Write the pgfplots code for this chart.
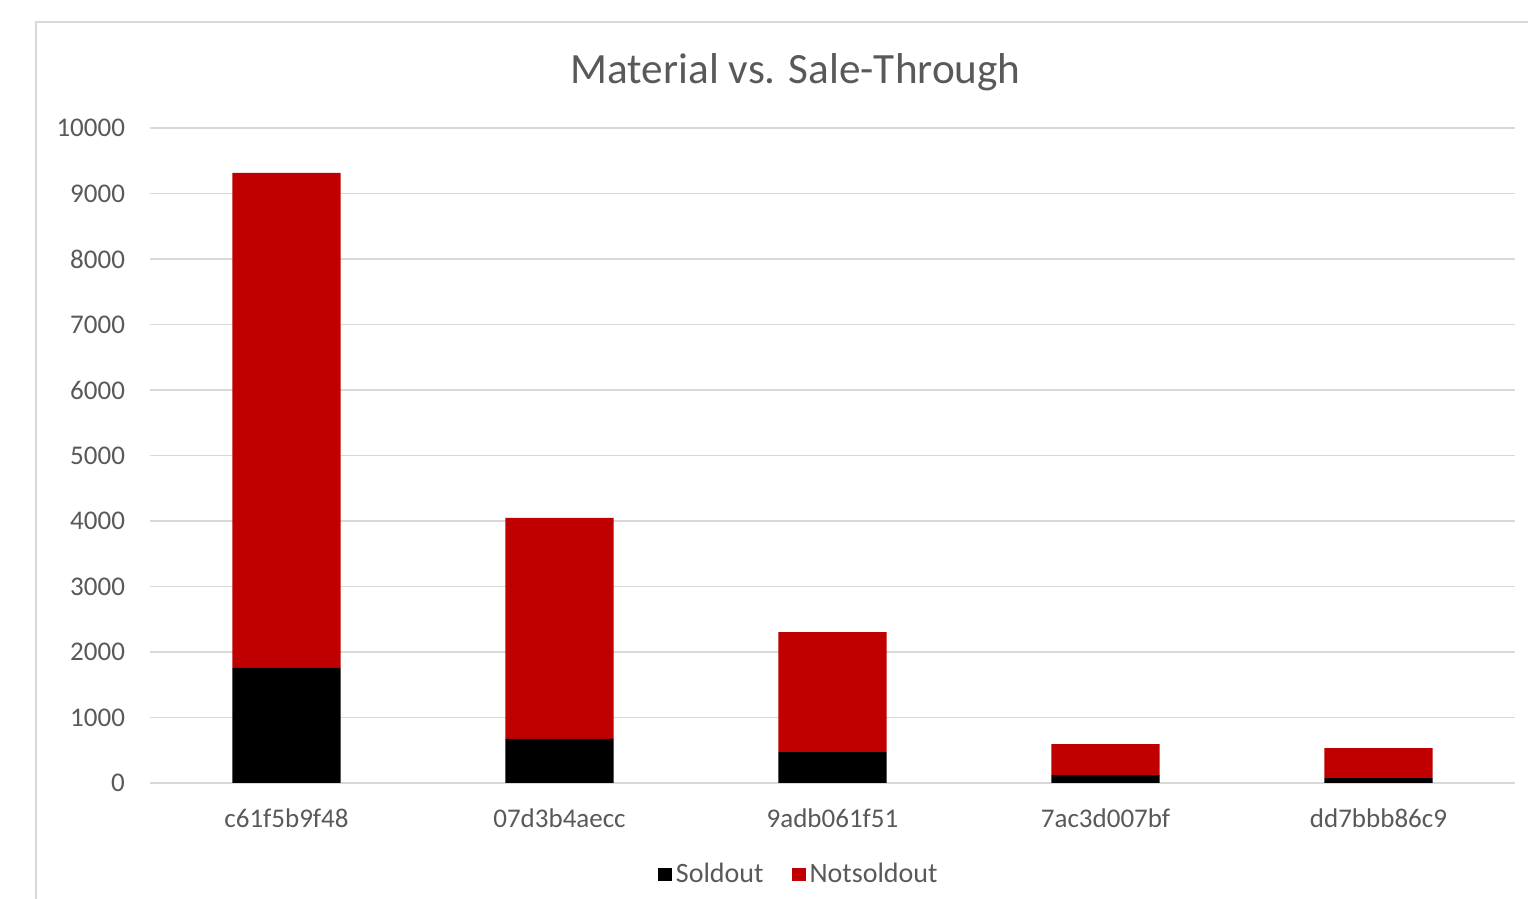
\documentclass[border=0pt]{standalone}
\usepackage{pgfplots}
\pgfplotsset{compat=1.18}
\usepackage{fontspec}
\setmainfont{Carlito}
\definecolor{exred}{HTML}{C00000}
\definecolor{gridc}{HTML}{D9D9D9}
\definecolor{txt}{HTML}{595959}
\begin{document}
\begin{tikzpicture}
\path[use as bounding box] (0,0) rectangle (764pt,449.5pt);
\draw[gridc, line width=0.8pt] (18pt,0) -- (18pt,438.5pt) -- (764pt,438.5pt);
\begin{axis}[
  at={(75pt,58pt)}, anchor=south west,
  scale only axis, width=682.5pt, height=327.5pt,
  ybar stacked, bar width=0.396,
  xmin=-0.5, xmax=4.5, ymin=0, ymax=10000,
  ytick distance=1000,
  xtick=data,
  xticklabels={c61f5b9f48,07d3b4aecc,9adb061f51,7ac3d007bf,dd7bbb86c9},
  scaled y ticks=false,
  /pgf/number format/1000 sep={},
  /pgf/number format/assume math mode=true,
  ymajorgrids, grid style={gridc, line width=0.8pt},
  axis x line*=bottom, axis y line*=left,
  x axis line style={gridc, line width=0.8pt, -},
  y axis line style={draw=none},
  tick style={draw=none},
  ticklabel style={font=\fontsize{13.5}{15}\selectfont, text=txt},
  yticklabel style={xshift=-9pt},
  xticklabel style={yshift=-9.5pt},
  title={Material vs. Sale-Through},
  title style={at={(0.473,1.067)}, anchor=center, font=\fontsize{21.6}{26}\selectfont, text=txt},
  legend columns=2,
  legend style={at={(0.476,-0.139)}, anchor=center, draw=none, font=\fontsize{14}{16}\selectfont, text=txt,
    /tikz/every even column/.append style={column sep=12pt}},
  legend image code/.code={\fill[#1] (-4pt,-3.5pt) rectangle (3pt,3pt);},
]
\addplot[fill=black, draw=none] coordinates {(0,1756) (1,672) (2,473) (3,122) (4,76)};
\addplot[fill=exred, draw=none] coordinates {(0,7557) (1,3374) (2,1832) (3,473) (4,458)};
\legend{Soldout,Notsoldout}
\end{axis}
\end{tikzpicture}
\end{document}
